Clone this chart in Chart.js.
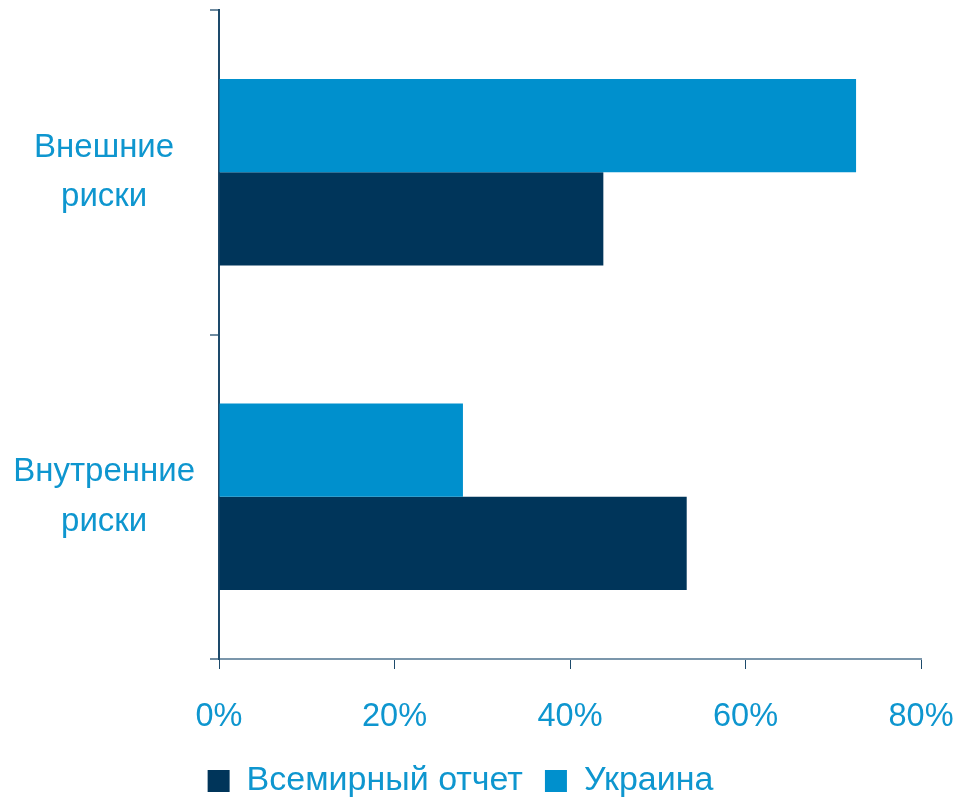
<!DOCTYPE html>
<html>
<head>
<meta charset="utf-8">
<script src="https://cdn.jsdelivr.net/npm/chart.js@4"></script>
<style>
  html, body { margin: 0; padding: 0; background: #fff; }
  #wrap { width: 958px; height: 797px; }
</style>
</head>
<body>
<div id="wrap"><canvas id="myChart"></canvas></div>
<script>
const categories = [["Внешние", "риски"], ["Внутренние", "риски"]];
const ukraine = [72.6, 27.8];
const world = [43.8, 53.3];
const xTicks = [0, 20, 40, 60, 80];

const textColor = "#0E96CF";
const fontFamily = "'Liberation Sans', Arial, sans-serif";

const ctx = document.getElementById("myChart").getContext("2d");

new Chart(ctx, {
  type: "bar",
  data: {
    labels: categories,
    datasets: [
      {
        label: "Украина",
        data: ukraine,
        backgroundColor: "#0090CD",
        borderWidth: 0,
        categoryPercentage: 0.574,
        barPercentage: 1,
      },
      {
        label: "Всемирный отчет",
        data: world,
        backgroundColor: "#00355A",
        borderWidth: 0,
        categoryPercentage: 0.574,
        barPercentage: 1,
      },
    ],
  },
  options: {
    indexAxis: "y",
    responsive: true,
    maintainAspectRatio: false,
    animation: false,
    layout: { padding: { top: 10, left: 0, right: 37, bottom: -11 } },
    plugins: {
      tooltip: { enabled: false },
      legend: {
        position: "bottom",
        reverse: true,
        labels: {
          color: textColor,
          font: { family: fontFamily, size: 34, lineHeight: 1 },
          boxWidth: 22,
          boxHeight: 22,
          padding: 22,
        },
      },
    },
    scales: {
      x: {
        min: 0,
        max: 80,
        afterBuildTicks: (axis) => {
          axis.ticks = xTicks.map((v) => ({ value: v }));
        },
        afterFit: (scale) => {
          scale.paddingLeft = 0;
          scale.paddingRight = 0;
          scale.height = 83;
        },
        ticks: {
          color: textColor,
          font: { family: fontFamily, size: 32.5 },
          padding: 29,
          maxRotation: 0,
          callback: (v) => v + "%",
        },
        grid: {
          drawOnChartArea: false,
          color: "#1D4A6B",
          tickLength: 10,
        },
        border: { color: "#7B96AB", width: 2 },
      },
      y: {
        afterFit: (scale) => {
          scale.paddingTop = 0;
          scale.paddingBottom = 0;
          scale.width = 219;
        },
        ticks: {
          color: textColor,
          font: { family: fontFamily, size: 33, lineHeight: 1.5 },
          crossAlign: "center",
          padding: 15,
        },
        grid: {
          drawOnChartArea: false,
          color: "#6F8BA0",
          tickLength: 9,
          lineWidth: 2,
        },
        border: { color: "#1D4A6B", width: 2 },
      },
    },
  },
});
</script>
</body>
</html>
